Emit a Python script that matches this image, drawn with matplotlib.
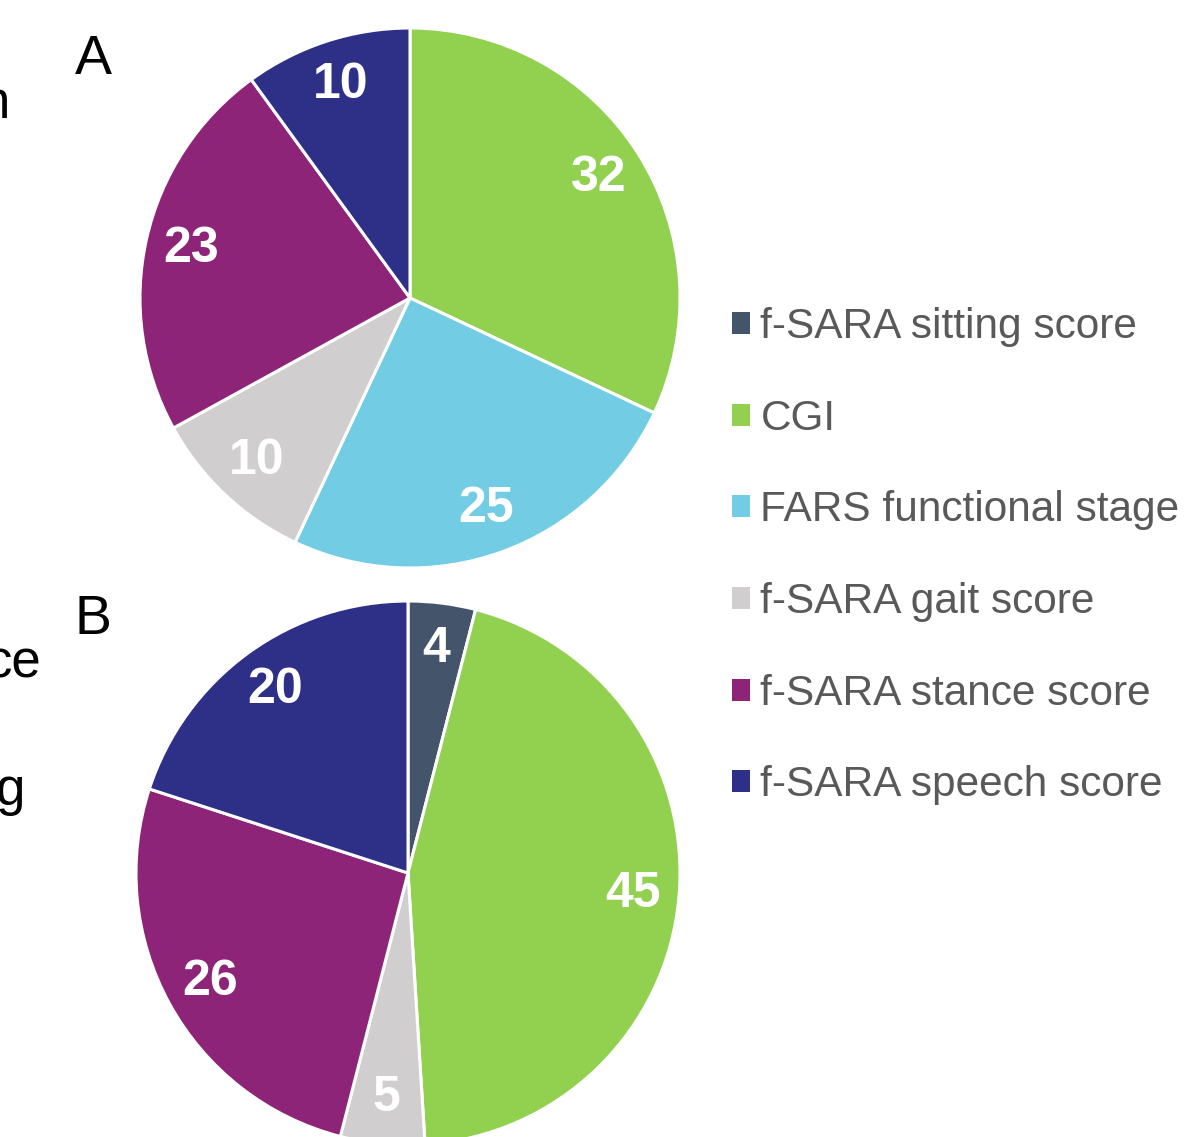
import matplotlib
matplotlib.use("Agg")
import matplotlib.pyplot as plt
from matplotlib.patches import Patch

plt.rcParams['font.family'] = ['Liberation Sans', 'DejaVu Sans']

categories = ["f-SARA sitting score", "CGI", "FARS functional stage",
              "f-SARA gait score", "f-SARA stance score", "f-SARA speech score"]
colors = ["#44546A", "#92D050", "#72CDE4", "#D0CECE", "#8E2478", "#2E3087"]
values_A = [0, 32, 25, 10, 23, 10]
values_B = [4, 45, 0, 5, 26, 20]

W, H = 1185, 1137
fig = plt.figure(figsize=(W / 100, H / 100), dpi=100)


def pie_axes(cx, cy, r):
    return fig.add_axes([(cx - r) / W, (H - (cy + r)) / H, 2 * r / W, 2 * r / H])


def draw_pie(ax, vals):
    v = [x for x in vals if x > 0]
    c = [col for x, col in zip(vals, colors) if x > 0]
    wedges, texts = ax.pie(v, colors=c, startangle=90, counterclock=False,
                           labels=[str(x) for x in v], labeldistance=0.83,
                           wedgeprops=dict(edgecolor="white", linewidth=2.2),
                           textprops=dict(color="white", fontsize=36, fontweight="bold",
                                          ha="center", va="center"))
    ax.set_xlim(-1, 1)
    ax.set_ylim(-1, 1)
    ax.set_aspect("auto")
    for t in texts:
        t.set_ha("center")
        t.set_va("center")


axA = pie_axes(410, 298, 270)
draw_pie(axA, values_A)
axB = pie_axes(408, 873, 272)
draw_pie(axB, values_B)

fig.text(93 / W, 1 - 60 / H, "A", fontsize=40, ha="center", va="center", color="black")
fig.text(93 / W, 1 - 620 / H, "B", fontsize=40, ha="center", va="center", color="black")

# cut-off texts from neighbouring panel
fig.text(10 / W, 1 - 118 / H, "n", fontsize=38, ha="right", va="baseline", color="black")
fig.text(42 / W, 1 - 678 / H, "ce", fontsize=38, ha="right", va="baseline", color="black")
fig.text(25 / W, 1 - 805 / H, "g", fontsize=38, ha="right", va="baseline", color="black")

handles = [Patch(facecolor=c, edgecolor="none") for c in colors]
leg = fig.legend(handles, categories, loc="upper left",
                 bbox_to_anchor=(732 / W, 1 - 307 / H), frameon=False,
                 fontsize=30.5, handlelength=0.42, handleheight=0.42,
                 handletextpad=0.25, labelspacing=1.22, borderaxespad=0, borderpad=0)
for t in leg.get_texts():
    t.set_color("#595959")

fig.savefig("out.png", dpi=100)
